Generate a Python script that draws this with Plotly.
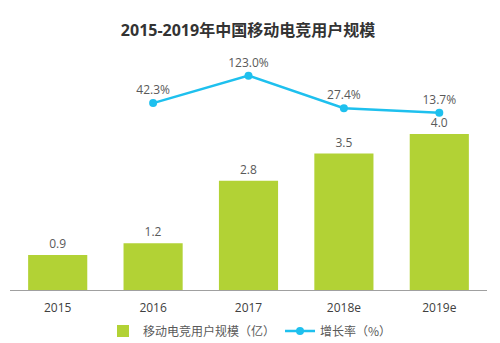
import plotly.graph_objects as go

years = ["2015", "2016", "2017", "2018e", "2019e"]
users = [0.9, 1.2, 2.8, 3.5, 4.0]
growth_years = ["2016", "2017", "2018e", "2019e"]
growth = [42.3, 123.0, 27.4, 13.7]

bar_name = "移动电竞用户规模（亿）"
line_name = "增长率（%）"

font_family = "Open Sans, Noto Sans CJK SC, sans-serif"
cjk_family = "Noto Sans CJK SC, Open Sans, sans-serif"

fig = go.Figure()
fig.add_trace(go.Bar(
    x=years, y=users, name=bar_name,
    marker=dict(color="#B2D235", line=dict(width=0)),
    text=[f"{v:.1f}" for v in users], textposition="outside",
    textfont=dict(size=12, color="#595959", family=font_family),
    cliponaxis=False,
))
fig.add_trace(go.Scatter(
    x=growth_years, y=growth, name=line_name, yaxis="y2",
    mode="lines+markers+text",
    line=dict(color="#1EC0EE", width=2.5),
    marker=dict(color="#1EC0EE", size=8),
    text=[f"{v:.1f}%" for v in growth], textposition="top center",
    textfont=dict(size=12, color="#595959", family=font_family),
    cliponaxis=False,
))

fig.update_layout(
    width=500, height=343,
    margin=dict(l=0, r=0, t=0, b=0, autoexpand=False),
    paper_bgcolor="white", plot_bgcolor="white",
    font=dict(family=font_family, color="#404040"),
    title=dict(text="<b>2015-2019年中国移动电竞用户规模</b>", x=0.496, xanchor="center",
               y=1 - 30 / 343, yanchor="middle",
               font=dict(size=16, color="#333333", family=font_family)),
    bargap=0.38,
    showlegend=True,
    legend=dict(orientation="h", x=0.5, xanchor="center", y=12 / 343, yanchor="middle",
                font=dict(size=12, color="#595959", family=cjk_family),
                bgcolor="rgba(0,0,0,0)", itemwidth=30),
    xaxis=dict(domain=[10 / 500, 487 / 500], showline=True, linecolor="#A0A0A0", linewidth=1,
               ticks="", showgrid=False, tickfont=dict(size=12, color="#404040", family=font_family),
               ticklabelstandoff=7, type="category", automargin=False),
    yaxis=dict(domain=[(343 - 290) / 343, (343 - 60) / 343], range=[0, 230 / 39],
               visible=False, showgrid=False, zeroline=False),
    yaxis2=dict(overlaying="y", range=[-507, 169], visible=False, showgrid=False,
                zeroline=False),
)

fig.write_html("out.html")
